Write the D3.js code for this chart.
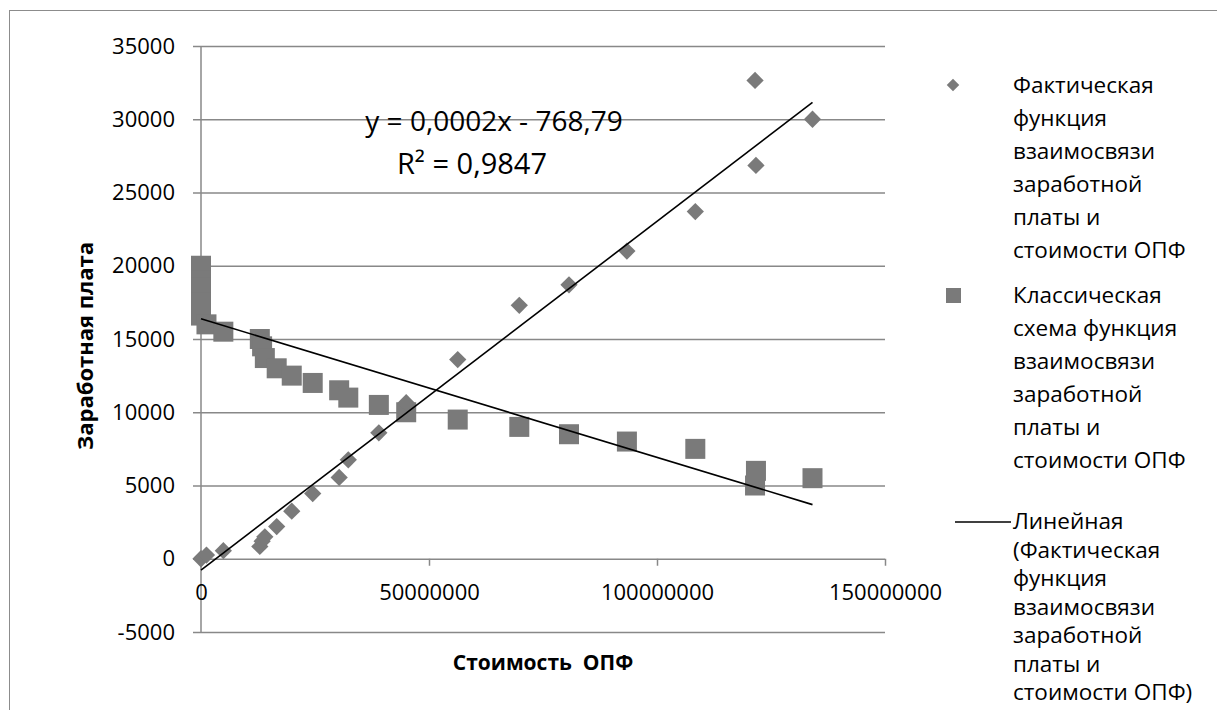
<!DOCTYPE html>
<html><head><meta charset="utf-8">
<script src="https://cdn.jsdelivr.net/npm/d3@7"></script>
<style>html,body{margin:0;padding:0;background:#fff;}svg{display:block;}</style>
</head><body>
<svg id="c" width="1217" height="710"></svg>
<script>
const actualX = [0, 1.2e6, 4.9e6, 12.9e6, 13.4e6, 14.0e6, 16.6e6, 19.9e6, 24.5e6, 30.3e6, 32.3e6, 39.0e6, 45.0e6, 56.3e6, 69.8e6, 80.7e6, 93.4e6, 108.4e6, 121.5e6, 121.7e6, 134.1e6];
const actualY = [0, 250, 550, 840, 1200, 1500, 2200, 3250, 4450, 5550, 6750, 8600, 10650, 13600, 17300, 18700, 21000, 23700, 32650, 26850, 30000];
const classicX = [0, 0, 0, 0, 0, 0, 0, 0, 1.2e6, 4.9e6, 12.9e6, 13.4e6, 14.0e6, 16.6e6, 19.9e6, 24.5e6, 30.3e6, 32.3e6, 39.0e6, 45.0e6, 56.3e6, 69.8e6, 80.7e6, 93.4e6, 108.4e6, 121.5e6, 121.7e6, 134.1e6];
const classicY = [20000, 19500, 19000, 18500, 18000, 17500, 17000, 16600, 16000, 15500, 15000, 14500, 13700, 13000, 12500, 12000, 11500, 11000, 10500, 10000, 9500, 9000, 8500, 8000, 7500, 5000, 6000, 5500];
const actualTrend = {slope: 0.000238, intercept: -768.79};
const classicTrend = {slope: -0.0000946, intercept: 16380};
const xTicks = [0, 50000000, 100000000, 150000000];
const yTicks = [-5000, 0, 5000, 10000, 15000, 20000, 25000, 30000, 35000];
const equationLines = ["y = 0,0002x - 768,79", "R² = 0,9847"];
const xTitle = "Стоимость  ОПФ";
const yTitle = "Заработная плата";
const legendActual = ["Фактическая", "функция", "взаимосвязи", "заработной", "платы и", "стоимости ОПФ"];
const legendClassic = ["Классическая", "схема функция", "взаимосвязи", "заработной", "платы и", "стоимости ОПФ"];
const legendTrend = ["Линейная", "(Фактическая", "функция", "взаимосвязи", "заработной", "платы и", "стоимости ОПФ)"];

const FONT = "'Open Sans', sans-serif";
const GRID = "#888888";
const MARK = "#7a7a7a";
const svg = d3.select("#c");

// chart border
svg.append("rect").attr("x", 9.5).attr("y", 10.5).attr("width", 1300).attr("height", 800)
  .attr("fill", "none").attr("stroke", "#8c8c8c").attr("stroke-width", 1);

const x = d3.scaleLinear().domain([0, 150000000]).range([201, 885]);
const y = d3.scaleLinear().domain([-5000, 35000]).range([632, 46]);

// horizontal gridlines (y axis)
const yAxis = d3.axisLeft(y).tickValues(yTicks).tickSize(-(885 - 193)).tickSizeOuter(0).tickPadding(0).tickFormat(d => d);
const gy = svg.append("g").attr("transform", "translate(193,0)").call(yAxis);
gy.select(".domain").remove();
gy.selectAll(".tick line").attr("stroke", GRID).attr("stroke-width", 1.5);
gy.selectAll(".tick text").attr("x", -18).attr("font-family", FONT).attr("font-size", 22).attr("fill", "#000");

// vertical axis line
svg.append("line").attr("x1", x(0)).attr("x2", x(0)).attr("y1", y(35000)).attr("y2", y(-5000))
  .attr("stroke", GRID).attr("stroke-width", 1.5);

// x axis at y=0
const xAxis = d3.axisBottom(x).tickValues(xTicks).tickSize(7).tickSizeOuter(0).tickPadding(19).tickFormat(d => d);
const gx = svg.append("g").attr("transform", `translate(0,${y(0)})`).call(xAxis);
gx.select(".domain").remove();
gx.selectAll(".tick line").attr("stroke", GRID).attr("stroke-width", 1.5);
gx.selectAll(".tick text").attr("font-family", FONT).attr("font-size", 22).attr("fill", "#000");

// markers: squares
const sq = 20;
svg.append("g").selectAll("rect").data(classicX.map((d, i) => [d, classicY[i]])).join("rect")
  .attr("x", d => x(d[0]) - sq / 2).attr("y", d => y(d[1]) - sq / 2)
  .attr("width", sq).attr("height", sq).attr("fill", MARK);

// diamonds
const dsym = d3.symbol().type(d3.symbolDiamond2).size(190);
svg.append("g").selectAll("path").data(actualX.map((d, i) => [d, actualY[i]])).join("path")
  .attr("d", dsym).attr("transform", d => `translate(${x(d[0])},${y(d[1])})`).attr("fill", MARK);

// trend lines
const xMax = d3.max(actualX);
[actualTrend, classicTrend].forEach(t => {
  svg.append("line").attr("x1", x(0)).attr("y1", y(t.intercept))
    .attr("x2", x(xMax)).attr("y2", y(t.intercept + t.slope * xMax))
    .attr("stroke", "#000").attr("stroke-width", 1.6);
});

// equation
svg.append("text").attr("x", 494).attr("y", 131).attr("text-anchor", "middle")
  .attr("font-family", FONT).attr("font-size", 28).text(equationLines[0]);
svg.append("text").attr("x", 472).attr("y", 174).attr("text-anchor", "middle")
  .attr("font-family", FONT).attr("font-size", 29).text(equationLines[1]);

// axis titles
svg.append("text").attr("x", 543).attr("y", 670).attr("text-anchor", "middle").attr("xml:space", "preserve")
  .style("white-space", "pre")
  .attr("font-family", FONT).attr("font-weight", "bold").attr("font-size", 21).text(xTitle);
svg.append("text").attr("transform", "translate(93,346) rotate(-90)").attr("text-anchor", "middle")
  .attr("font-family", FONT).attr("font-weight", "bold").attr("font-size", 22).text(yTitle);

// legend
const LX = 1013;
function legendText(lines, y0, lh) {
  const t = svg.append("text").attr("font-family", FONT).attr("font-size", 22.5).attr("fill", "#000");
  lines.forEach((l, i) => t.append("tspan").attr("x", LX).attr("y", y0 + i * lh).text(l));
}
svg.append("path").attr("d", d3.symbol().type(d3.symbolDiamond2).size(100)).attr("transform", "translate(953,85)").attr("fill", MARK);
legendText(legendActual, 93, 33);
svg.append("rect").attr("x", 946).attr("y", 288).attr("width", 15).attr("height", 15).attr("fill", MARK);
legendText(legendClassic, 303, 33);
svg.append("line").attr("x1", 955).attr("x2", 1011).attr("y1", 522).attr("y2", 522).attr("stroke", "#000").attr("stroke-width", 1.5);
legendText(legendTrend, 529, 28.5);
</script>
</body></html>
